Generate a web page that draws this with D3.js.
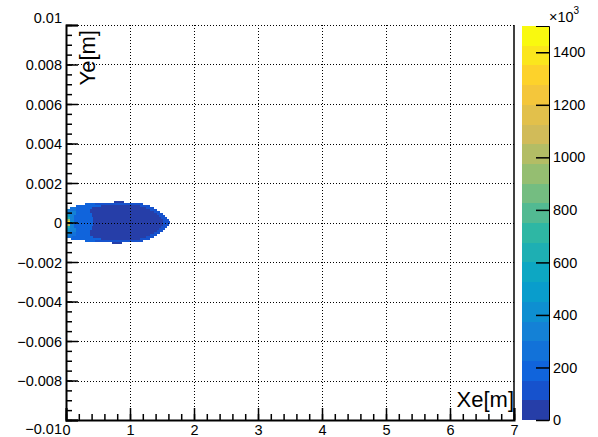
<!DOCTYPE html>
<html><head><meta charset="utf-8">
<script src="https://cdn.jsdelivr.net/npm/d3@7"></script>
<style>body{margin:0;background:#fff} text{font-family:"Liberation Sans",Arial,Helvetica,sans-serif;fill:#000}</style>
</head><body>
<svg id="c" width="598" height="437"></svg>
<script>
// ---------- data ----------
const xTickValues = [0,1,2,3,4,5,6,7];
const xTickLabels = ["0","1","2","3","4","5","6","7"];
const yTickValues = [0.01,0.008,0.006,0.004,0.002,0,-0.002,-0.004,-0.006,-0.008,-0.01];
const yTickLabels = ["0.01","0.008","0.006","0.004","0.002","0","\u22120.002","\u22120.004","\u22120.006","\u22120.008","\u22120.01"];
const zTickValues = [0,200,400,600,800,1000,1200,1400];
const zTickLabels = ["0","200","400","600","800","1000","1200","1400"];
const zRange = [0,1500];       // x10^3
const nContours = 20;
const yBinWidth = 0.0001;      // m
// row index k: row spans [k*yBinWidth, (k+1)*yBinWidth]; segments [x0, x1, value(x10^3)]
const rowIndex = [10,9,8,7,6,5,4,3,2,1,0,-1,-2,-3,-4,-5,-6,-7,-8,-9,-10,-11];
const rowSegments = [
  [[0.75,0.9,50]],
  [[0.3,0.45,160],[0.45,1.2,130]],
  [[0.15,0.3,200],[0.3,0.55,150],[0.55,1.15,50],[1.15,1.32,130]],
  [[0.06,0.15,250],[0.15,0.4,190],[0.4,1.25,50],[1.25,1.38,130]],
  [[0,0.06,320],[0.06,0.15,280],[0.15,0.38,200],[0.38,1.32,50],[1.32,1.42,130]],
  [[0,0.06,360],[0.06,0.15,300],[0.15,0.38,200],[0.38,1.38,50],[1.38,1.47,130]],
  [[0,0.06,400],[0.06,0.15,320],[0.15,0.4,200],[0.4,1.42,50],[1.42,1.52,130]],
  [[0,0.06,450],[0.06,0.13,330],[0.13,0.4,210],[0.4,1.46,50],[1.46,1.55,130]],
  [[0,0.06,600],[0.06,0.12,340],[0.12,0.42,210],[0.42,1.49,50],[1.49,1.58,130]],
  [[0,0.06,900],[0.06,0.12,360],[0.12,0.42,220],[0.42,1.51,50],[1.51,1.61,130]],
  [[0,0.06,1300],[0.06,0.12,380],[0.12,0.42,220],[0.42,1.52,50],[1.52,1.63,130]],
  [[0,0.06,1420],[0.06,0.12,380],[0.12,0.42,220],[0.42,1.52,50],[1.52,1.63,130]],
  [[0,0.06,1000],[0.06,0.12,360],[0.12,0.42,220],[0.42,1.51,50],[1.51,1.61,130]],
  [[0,0.06,650],[0.06,0.13,340],[0.13,0.4,210],[0.4,1.49,50],[1.49,1.58,130]],
  [[0,0.06,480],[0.06,0.15,320],[0.15,0.4,210],[0.4,1.46,50],[1.46,1.55,130]],
  [[0,0.06,420],[0.06,0.15,300],[0.15,0.38,200],[0.38,1.42,50],[1.42,1.52,130]],
  [[0,0.06,380],[0.06,0.15,280],[0.15,0.38,200],[0.38,1.38,50],[1.38,1.47,130]],
  [[0,0.06,340],[0.06,0.15,260],[0.15,0.38,190],[0.38,1.32,50],[1.32,1.42,130]],
  [[0,0.1,260],[0.1,0.2,200],[0.2,0.42,170],[0.42,1.25,50],[1.25,1.38,130]],
  [[0.08,0.2,220],[0.2,0.3,180],[0.3,0.55,150],[0.55,1.15,50],[1.15,1.32,130]],
  [[0.3,0.45,160],[0.45,1.2,130]],
  [[0.72,0.88,50]]
];
// ROOT kBird palette stops
const birdStops = [0.0,0.125,0.25,0.375,0.5,0.625,0.75,0.875,1.0];
const birdR = [0.2082,0.0592,0.0780,0.0232,0.1802,0.5301,0.8186,0.9956,0.9764];
const birdG = [0.1664,0.3599,0.5041,0.6419,0.7178,0.7492,0.7328,0.7862,0.9832];
const birdB = [0.5293,0.8684,0.8385,0.7914,0.6425,0.4662,0.3499,0.1968,0.0539];

// ---------- palette (ROOT gradient table, 255 colours) ----------
const NCOL = 255;
const pal = [];
for (let g = 1; g < birdStops.length; g++) {
  const n = Math.floor(NCOL*birdStops[g]) - Math.floor(NCOL*birdStops[g-1]);
  for (let c = 0; c < n; c++) {
    const t = c/n;
    const r = birdR[g-1] + t*(birdR[g]-birdR[g-1]);
    const gg = birdG[g-1] + t*(birdG[g]-birdG[g-1]);
    const b = birdB[g-1] + t*(birdB[g]-birdB[g-1]);
    pal.push(d3.rgb(Math.round(r*255),Math.round(gg*255),Math.round(b*255)).toString());
  }
}
const levelColor = i => pal[Math.min(pal.length-1, Math.floor((i+0.99)*NCOL/nContours))];
const zLevel = z => Math.min(nContours-1, Math.floor(0.01 + (z-zRange[0])*nContours/(zRange[1]-zRange[0])));

// ---------- layout ----------
const svg = d3.select("#c");
const x = d3.scaleLinear([0,7],[66,514]);
const y = d3.scaleLinear([-0.01,0.01],[420,25]);
const zs = d3.scaleLinear(zRange,[420,26]);

// cells
const cells = [];
rowIndex.forEach((k,i) => rowSegments[i].forEach(s => cells.push({k, x0:s[0], x1:s[1], v:s[2]})));
svg.append("g").selectAll("rect").data(cells).join("rect")
  .attr("x", d => x(d.x0))
  .attr("y", d => y((d.k+1)*yBinWidth))
  .attr("width", d => x(d.x1)-x(d.x0))
  .attr("height", d => y(d.k*yBinWidth)-y((d.k+1)*yBinWidth))
  .attr("fill", d => levelColor(zLevel(d.v)))
  .attr("shape-rendering","crispEdges");

// grid
const grid = svg.append("g").attr("stroke","#000").attr("stroke-width",1).attr("stroke-dasharray","1,2").attr("shape-rendering","crispEdges");
xTickValues.filter(v => v>0 && v<7).forEach(v => grid.append("line").attr("x1",Math.round(x(v))+0.5).attr("x2",Math.round(x(v))+0.5).attr("y1",y(0.01)).attr("y2",y(-0.01)));
yTickValues.filter(v => v>-0.01).forEach(v => grid.append("line").attr("x1",x(0)).attr("x2",x(7)).attr("y1",Math.round(y(v))+0.5).attr("y2",Math.round(y(v))+0.5));

// right frame
svg.append("line").attr("x1",x(7)).attr("x2",x(7)).attr("y1",y(0.01)).attr("y2",y(-0.01)).attr("stroke","#000").attr("stroke-width",1.5);

// x axis
const xMinor = d3.range(0,7.0001,0.2);
svg.append("g").attr("transform",`translate(0,${y(-0.01)})`)
  .call(d3.axisBottom(x).tickValues(xMinor).tickSize(-6).tickFormat(""))
  .call(g => g.selectAll(".tick line").attr("stroke-width",1.5));
svg.append("g").attr("transform",`translate(0,${y(-0.01)})`)
  .call(d3.axisBottom(x).tickValues(xTickValues).tickSize(-12).tickFormat((d,i)=>xTickLabels[i]).tickPadding(4))
  .call(g => g.select(".domain").attr("stroke-width",2))
  .call(g => g.selectAll(".tick line").attr("stroke-width",1.5))
  .call(g => g.selectAll(".tick text").attr("font-size","14.5px").attr("y",14.5).attr("dy","0"));
// y axis
const yMinor = d3.range(-0.01,0.01001,0.0005);
svg.append("g").attr("transform",`translate(${x(0)},0)`)
  .call(d3.axisLeft(y).tickValues(yMinor).tickSize(-6).tickFormat(""))
  .call(g => g.selectAll(".tick line").attr("stroke-width",1.5));
svg.append("g").attr("transform",`translate(${x(0)},0)`)
  .call(d3.axisLeft(y).tickValues(yTickValues).tickSize(-12).tickFormat((d,i)=>yTickLabels[i]).tickPadding(4))
  .call(g => g.select(".domain").attr("stroke-width",2))
  .call(g => g.selectAll(".tick line").attr("stroke-width",1.5))
  .call(g => g.selectAll(".tick text").attr("font-size","14.5px").attr("x",-4)
     .attr("dy", d => d===0.01 ? "-0.15em" : (d===-0.01 ? "0.95em" : "0.35em")));

// axis titles
svg.append("text").attr("x",x(7)).attr("y",407).attr("text-anchor","end").attr("font-size","22px").text("Xe[m]");
svg.append("text").attr("transform",`translate(95,${y(0.01)+5}) rotate(-90)`).attr("text-anchor","end").attr("font-size","22px").text("Ye[m]");

// palette
const levels = d3.range(nContours);
const step = (zRange[1]-zRange[0])/nContours;
svg.append("g").selectAll("rect").data(levels).join("rect")
  .attr("x",522).attr("width",27)
  .attr("y", i => zs((i+1)*step)).attr("height", i => zs(i*step)-zs((i+1)*step))
  .attr("fill", i => levelColor(i)).attr("shape-rendering","crispEdges");
svg.append("g").attr("transform","translate(549,0)")
  .call(d3.axisRight(zs).tickValues(zTickValues).tickSize(-13).tickFormat((d,i)=>zTickLabels[i]).tickPadding(4))
  .call(g => g.select(".domain").attr("stroke-width",1))
  .call(g => g.selectAll(".tick line").attr("stroke-width",1.5))
  .call(g => g.selectAll(".tick text").attr("font-size","14.5px").attr("x",4));
const mult = svg.append("text").attr("x",549).attr("y",22).attr("font-size","14.5px");
mult.append("tspan").text("\u00d710");
mult.append("tspan").attr("font-size","10px").attr("dy","-8").text("3");
</script>
</body></html>
